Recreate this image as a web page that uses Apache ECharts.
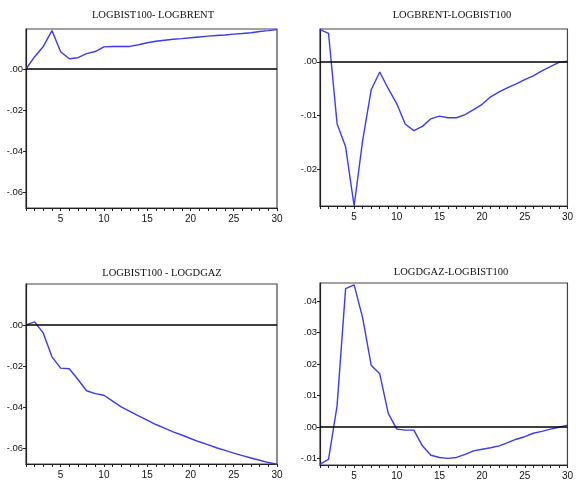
<!DOCTYPE html>
<html>
<head>
<meta charset="utf-8">
<script src="https://cdn.jsdelivr.net/npm/echarts@6/dist/echarts.min.js"></script>
<style>
  html, body { margin: 0; padding: 0; background: #fff; }
  #main { width: 576px; height: 489px; }
</style>
</head>
<body>
<div id="main"></div>
<script>
"use strict";

var steps = [];
for (var i = 1; i <= 30; i++) steps.push(i);

var titles = ['LOGBIST100- LOGBRENT', 'LOGBRENT-LOGBIST100', 'LOGBIST100 - LOGDGAZ', 'LOGDGAZ-LOGBIST100'];

// impulse responses
var bistBrent = [0.0000, 0.0060, 0.0110, 0.0187, 0.0084, 0.0050, 0.0055, 0.0075, 0.0085, 0.0108,
    0.0110, 0.0110, 0.0110, 0.0118, 0.0128, 0.0135, 0.0140, 0.0145, 0.0148, 0.0152,
    0.0156, 0.0160, 0.0163, 0.0166, 0.0170, 0.0173, 0.0177, 0.0183, 0.0187, 0.0192];
var brentBist = [0.0060, 0.0053, -0.0115, -0.0158, -0.0268, -0.0146, -0.0052, -0.0019, -0.0050, -0.0078,
    -0.0116, -0.0128, -0.0120, -0.0106, -0.0101, -0.0104, -0.0104, -0.0098, -0.0089, -0.0079,
    -0.0065, -0.0056, -0.0048, -0.0041, -0.0033, -0.0026, -0.0017, -0.0009, -0.0001, 0.0001];
var bistGaz = [0.0000, 0.0015, -0.0040, -0.0155, -0.0210, -0.0213, -0.0265, -0.0320, -0.0334, -0.0342,
    -0.0370, -0.0398, -0.0420, -0.0442, -0.0463, -0.0484, -0.0502, -0.0520, -0.0535, -0.0552,
    -0.0568, -0.0582, -0.0597, -0.0610, -0.0623, -0.0635, -0.0647, -0.0658, -0.0669, -0.0677];
var gazBist = [-0.0118, -0.0103, 0.0067, 0.0440, 0.0452, 0.0347, 0.0196, 0.0169, 0.0043, -0.0007,
    -0.0010, -0.0010, -0.0060, -0.0090, -0.0097, -0.0100, -0.0097, -0.0087, -0.0076, -0.0071,
    -0.0066, -0.0060, -0.0050, -0.0039, -0.0031, -0.0020, -0.0014, -0.0007, -0.0001, 0.0006];

var yTicks = [
    [-0.06, -0.04, -0.02, 0],
    [-0.02, -0.01, 0],
    [-0.06, -0.04, -0.02, 0],
    [-0.01, 0, 0.01, 0.02, 0.03, 0.04]
];
var yRange = [[-0.0678, 0.0195], [-0.0268, 0.0061], [-0.0676, 0.0199], [-0.0121, 0.0458]];
var seriesData = [bistBrent, brentBist, bistGaz, gazBist];

var boxes = [
    { left: 26, top: 29, width: 251, height: 179 },
    { left: 320, top: 29, width: 252, height: 177 },
    { left: 26, top: 284, width: 251, height: 180 },
    { left: 320, top: 283, width: 253, height: 182 }
];
var titlePos = [[148, 5], [447, 5], [157, 263], [446, 262]];

function fmt(v) {
    var s = Math.abs(v).toFixed(2).replace(/^0/, '');
    return (v < -1e-9 ? '-' : '') + s;
}

var grids = [], xAxes = [], yAxes = [], series = [], titleList = [];
for (var k = 0; k < 4; k++) {
    grids.push(Object.assign({ show: true, borderColor: '#444', borderWidth: 1.2, backgroundColor: '#fff' }, boxes[k]));
    titleList.push({
        text: titles[k], left: titlePos[k][0], top: titlePos[k][1], textAlign: 'center',
        textStyle: { fontFamily: 'Liberation Serif', fontSize: 10.5, fontWeight: 'normal', color: '#111' }
    });
    xAxes.push({
        type: 'category', gridIndex: k, data: steps, boundaryGap: false,
        axisLine: { show: true, onZero: false, lineStyle: { color: '#222', width: 1.2 } },
        axisTick: { show: true, interval: 0, length: 3, lineStyle: { color: '#222' } },
        axisLabel: {
            interval: function (i, v) { return Number(v) % 5 === 0; },
            fontFamily: 'Liberation Sans', fontSize: 10, color: '#111', margin: 6
        },
        splitLine: { show: false }
    });
    yAxes.push({
        type: 'value', gridIndex: k, min: yRange[k][0], max: yRange[k][1],
        axisLine: { show: true, onZero: false, lineStyle: { color: '#222', width: 1.2 } },
        axisTick: { show: true, length: 3, customValues: yTicks[k], lineStyle: { color: '#222' } },
        axisLabel: {
            customValues: yTicks[k], formatter: fmt,
            fontFamily: 'Liberation Sans', fontSize: 9.5, color: '#111', margin: 3
        },
        splitLine: { show: false }
    });
    series.push({
        type: 'line', xAxisIndex: k, yAxisIndex: k, data: seriesData[k],
        showSymbol: false, smooth: false,
        lineStyle: { color: '#3b3bf0', width: 1.4 },
        markLine: {
            silent: true, symbol: 'none', animation: false,
            label: { show: false },
            lineStyle: { color: '#000', width: 1.6, type: 'solid' },
            data: [{ yAxis: 0 }]
        }
    });
}

var myChart = echarts.init(document.getElementById('main'));
myChart.setOption({
    animation: false,
    backgroundColor: '#fff',
    title: titleList,
    grid: grids,
    xAxis: xAxes,
    yAxis: yAxes,
    series: series
});
</script>
</body>
</html>
